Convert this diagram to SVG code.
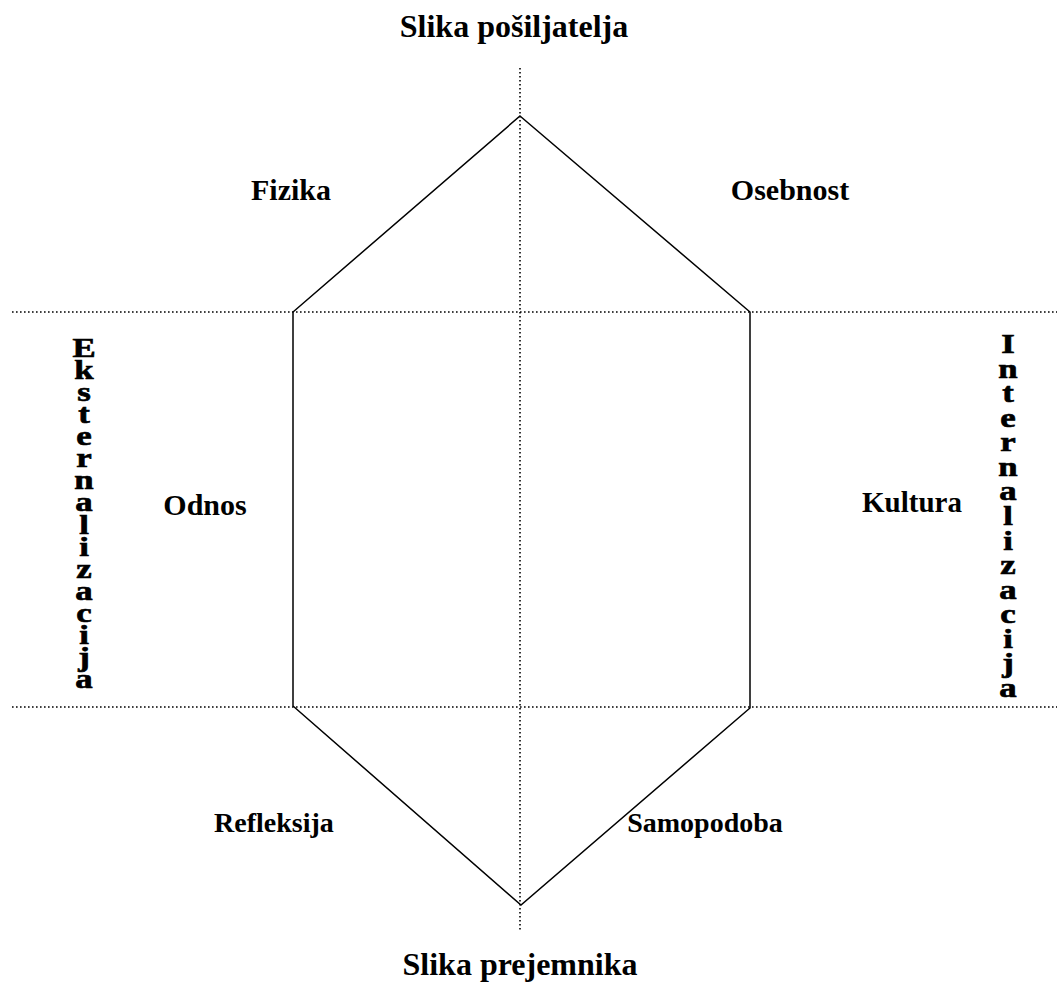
<svg xmlns="http://www.w3.org/2000/svg" width="1057" height="982" viewBox="0 0 1057 982">
<style>
.lbl{font-family:"Liberation Serif","Times New Roman",serif;font-weight:bold;font-size:28px;fill:#000;text-anchor:middle}
.big{font-size:32px}
.vt{font-family:"Liberation Serif","Times New Roman",serif;font-weight:bold;font-size:29px;fill:#000;stroke:#000;stroke-width:0.7;text-anchor:middle}
.dot{stroke:#000;stroke-width:1.6;stroke-dasharray:1.6 2.4;fill:none}
.hex{stroke:#000;stroke-width:1.5;fill:none}
</style>
<rect width="1057" height="982" fill="#fff"/>
<g id="connectors">
<line class="dot" x1="520" y1="68" x2="520" y2="932"/>
<line class="dot" x1="12" y1="312" x2="1057" y2="312"/>
<line class="dot" x1="12" y1="707" x2="1057" y2="707"/>
</g>
<g id="hexagon">
<polygon class="hex" points="520,116 750,312 750,708 521,905 293,706 293,312"/>
</g>
<g id="top"><text class="lbl big" x="514" y="37">Slika pošiljatelja</text></g>
<g id="bottom"><text class="lbl big" x="520" y="975">Slika prejemnika</text></g>
<g id="fizika"><text class="lbl" x="291" y="200" style="font-size:30px">Fizika</text></g>
<g id="osebnost"><text class="lbl" x="790" y="200" style="font-size:30px">Osebnost</text></g>
<g id="odnos"><text class="lbl" x="205" y="515" style="font-size:30px">Odnos</text></g>
<g id="kultura"><text class="lbl" x="912" y="512" style="font-size:29px">Kultura</text></g>
<g id="refleksija"><text class="lbl" x="274" y="832">Refleksija</text></g>
<g id="samopodoba"><text class="lbl" x="705" y="832">Samopodoba</text></g>
<g id="eksternalizacija">
<text class="vt" transform="translate(84,0) scale(1.2,0.95)"><tspan x="0" y="375.8">E</tspan><tspan x="0" y="399.0">k</tspan><tspan x="0" y="422.3">s</tspan><tspan x="0" y="445.5">t</tspan><tspan x="0" y="468.7">e</tspan><tspan x="0" y="492.0">r</tspan><tspan x="0" y="515.2">n</tspan><tspan x="0" y="538.4">a</tspan><tspan x="0" y="561.6">l</tspan><tspan x="0" y="584.9">i</tspan><tspan x="0" y="608.1">z</tspan><tspan x="0" y="631.3">a</tspan><tspan x="0" y="654.6">c</tspan><tspan x="0" y="677.8">i</tspan><tspan x="0" y="701.0">j</tspan><tspan x="0" y="724.3">a</tspan></text>
</g>
<g id="internalizacija">
<text class="vt" transform="translate(1008,0) scale(1.2,0.95)"><tspan x="0" y="371.6">I</tspan><tspan x="0" y="397.4">n</tspan><tspan x="0" y="423.3">t</tspan><tspan x="0" y="449.2">e</tspan><tspan x="0" y="475.0">r</tspan><tspan x="0" y="500.9">n</tspan><tspan x="0" y="526.7">a</tspan><tspan x="0" y="552.6">l</tspan><tspan x="0" y="578.5">i</tspan><tspan x="0" y="604.3">z</tspan><tspan x="0" y="630.2">a</tspan><tspan x="0" y="656.0">c</tspan><tspan x="0" y="681.9">i</tspan><tspan x="0" y="707.8">j</tspan><tspan x="0" y="733.6">a</tspan></text>
</g>
</svg>
